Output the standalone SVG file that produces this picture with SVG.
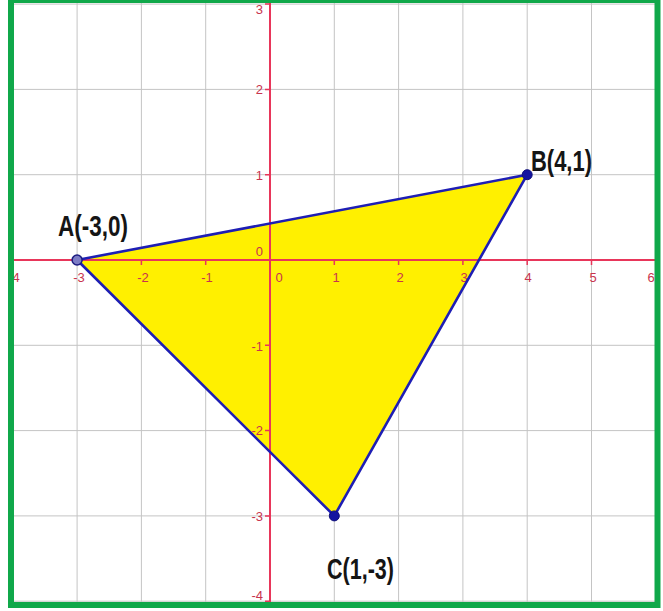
<svg xmlns="http://www.w3.org/2000/svg" width="663" height="611" viewBox="0 0 663 611">
<style>
.grid{stroke:#c4c4c4;stroke-width:1;fill:none}
.axis{stroke:#e8365a;stroke-width:2;fill:none}
.tick{stroke:#e8365a;stroke-width:1.5}
.tl{font-family:"Liberation Sans",Arial,sans-serif;font-size:13px;fill:#c8344e}
.edge{stroke:#1e1eb4;stroke-width:2.6;fill:none;stroke-linecap:round}
.lbl{font-family:"Liberation Sans",Arial,sans-serif;font-weight:bold;font-size:29px;fill:#151515}
.pt{fill:#1414a0;stroke:#10107a;stroke-width:1}
</style>
<rect x="0" y="0" width="663" height="611" fill="#ffffff"/>
<g id="grid">
<path class="grid" d="M12.8 0V603M77.1 0V603M141.4 0V603M205.7 0V603M334.3 0V603M398.6 0V603M462.9 0V603M527.2 0V603M591.5 0V603M655.8 0V603"/>
<path class="grid" d="M11 4.1H657M11 89.4H657M11 174.7H657M11 345.3H657M11 430.6H657M11 515.9H657M11 601.2H657"/>
</g>
<polygon id="fill" points="77.1,260 527.2,174.7 334.3,515.9" fill="#fff000"/>
<g id="axes">
<path class="axis" d="M11 260H657M270 0V603"/>
<path class="tick" d="M12.8 260v5M77.1 260v5M141.4 260v5M205.7 260v5M334.3 260v5M398.6 260v5M462.9 260v5M527.2 260v5M591.5 260v5M655.8 260v5"/>
<path class="tick" d="M265 4.1h5M265 89.4h5M265 174.7h5M265 345.3h5M265 430.6h5M265 515.9h5M265 601.2h5"/>
<g class="tl" text-anchor="middle">
<text x="16" y="282">4</text>
<text x="79" y="282">-3</text>
<text x="143" y="282">-2</text>
<text x="207" y="282">-1</text>
<text x="279" y="282">0</text>
<text x="336" y="282">1</text>
<text x="400" y="282">2</text>
<text x="464" y="282">3</text>
<text x="528" y="282">4</text>
<text x="593" y="282">5</text>
<text x="651" y="282">6</text>
</g>
<g class="tl" text-anchor="end">
<text x="263" y="14">3</text>
<text x="263" y="94">2</text>
<text x="263" y="180">1</text>
<text x="263" y="256">0</text>
<text x="263" y="351">-1</text>
<text x="263" y="435">-2</text>
<text x="263" y="521">-3</text>
<text x="263" y="600">-4</text>
</g>
</g>
<g id="connectors">
<line id="AB" class="edge" x1="77.1" y1="260" x2="527.2" y2="174.7"/>
<line id="BC" class="edge" x1="527.2" y1="174.7" x2="334.3" y2="515.9"/>
<line id="CA" class="edge" x1="334.3" y1="515.9" x2="77.1" y2="260"/>
</g>
<g id="A">
<circle cx="77.1" cy="260" r="5" fill="#7c7cc4" stroke="#1c1c80" stroke-width="1.5"/>
<text class="lbl" x="58" y="236" textLength="70" lengthAdjust="spacingAndGlyphs">A(-3,0)</text>
</g>
<g id="B">
<circle class="pt" cx="527.2" cy="174.7" r="5"/>
<text class="lbl" x="531" y="171" textLength="61" lengthAdjust="spacingAndGlyphs">B(4,1)</text>
</g>
<g id="C">
<circle class="pt" cx="334.3" cy="515.9" r="5"/>
<text class="lbl" x="327" y="579" textLength="67" lengthAdjust="spacingAndGlyphs">C(1,-3)</text>
</g>
<rect id="frame" x="11" y="0" width="646.5" height="605" fill="none" stroke="#10a84a" stroke-width="6"/>
</svg>
